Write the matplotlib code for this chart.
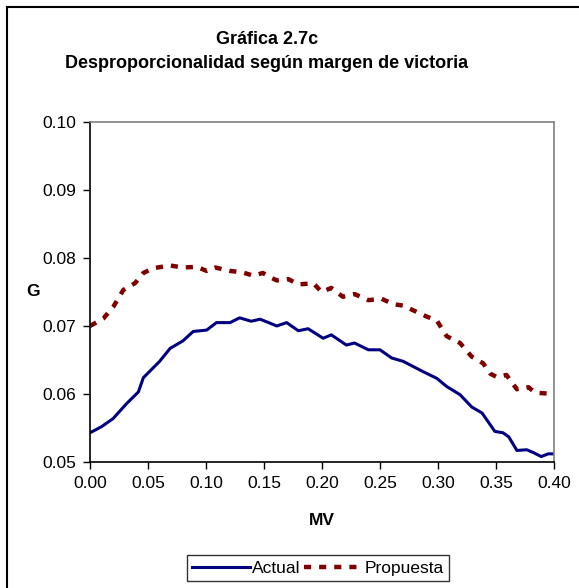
import matplotlib
matplotlib.use("Agg")
import matplotlib.pyplot as plt
from matplotlib.patches import Rectangle

plt.rcParams['font.family'] = ['Liberation Sans', 'DejaVu Sans']

# margen de victoria (MV) e índice de desproporcionalidad G
mv_actual = [0.000, 0.010, 0.020, 0.0316, 0.0417, 0.046, 0.060, 0.069, 0.080, 0.089,
             0.1006, 0.109, 0.1207, 0.129, 0.139, 0.1466, 0.154, 0.161, 0.1695, 0.1796,
             0.188, 0.201, 0.208, 0.221, 0.228, 0.240, 0.250, 0.260, 0.270, 0.287,
             0.299, 0.3075, 0.319, 0.329, 0.338, 0.349, 0.356, 0.361, 0.368, 0.3765,
             0.382, 0.389, 0.395, 0.400]
g_actual = [0.0543, 0.0552, 0.0564, 0.0586, 0.0603, 0.0624, 0.0648, 0.0667, 0.0678, 0.0692,
            0.0694, 0.0705, 0.0705, 0.0712, 0.0707, 0.0710, 0.0705, 0.0700, 0.0705, 0.0693,
            0.0696, 0.0682, 0.0687, 0.0672, 0.0675, 0.0665, 0.0665, 0.0653, 0.0648, 0.0633,
            0.0623, 0.0611, 0.0599, 0.0581, 0.0572, 0.0545, 0.0543, 0.0537, 0.0517, 0.0518,
            0.0514, 0.0508, 0.0512, 0.0512]

mv_prop = [0.000, 0.0115, 0.020, 0.0287, 0.0388, 0.046, 0.0546, 0.069, 0.080, 0.092,
           0.1006, 0.108, 0.1207, 0.131, 0.141, 0.149, 0.155, 0.161, 0.171, 0.1796,
           0.1925, 0.1997, 0.208, 0.218, 0.228, 0.240, 0.2515, 0.2615, 0.270, 0.280,
           0.290, 0.299, 0.3075, 0.319, 0.329, 0.339, 0.345, 0.3505, 0.359, 0.368,
           0.378, 0.3836, 0.400]
g_prop = [0.0700, 0.0711, 0.0728, 0.0753, 0.0763, 0.0778, 0.0785, 0.0789, 0.0786, 0.0787,
          0.0781, 0.0786, 0.0781, 0.0779, 0.0774, 0.0778, 0.0772, 0.0767, 0.0769, 0.0761,
          0.0763, 0.0750, 0.0756, 0.0743, 0.0747, 0.0738, 0.0740, 0.0732, 0.0730, 0.0722,
          0.0714, 0.0708, 0.0685, 0.0675, 0.0655, 0.0645, 0.0630, 0.0625, 0.0628, 0.0607,
          0.0610, 0.0602, 0.0600]

x_ticks = [0.00, 0.05, 0.10, 0.15, 0.20, 0.25, 0.30, 0.35, 0.40]
y_ticks = [0.05, 0.06, 0.07, 0.08, 0.09, 0.10]

fig = plt.figure(figsize=(5.79, 5.88), dpi=100)
fig.patches.append(Rectangle((7.5 / 579, -0.1), 1.2, 1.1 - 7.5 / 588, transform=fig.transFigure,
                             fill=False, edgecolor='black', linewidth=1.5))

ax = fig.add_axes([90 / 579, 1 - 462 / 588, 464 / 579, 340 / 588])
ax.plot(mv_actual, g_actual, color='#000080', linewidth=2.2, label='Actual')
ax.plot(mv_prop, g_prop, color='#800000', linewidth=3.2, dashes=(1.6, 1.8), label='Propuesta')

ax.set_xlim(0, 0.4)
ax.set_ylim(0.05, 0.10)
ax.set_xticks(x_ticks)
ax.set_yticks(y_ticks)
ax.set_xticklabels([f"{v:.2f}" for v in x_ticks])
ax.set_yticklabels([f"{v:.2f}" for v in y_ticks])
ax.tick_params(direction='out', length=5, width=1, labelsize=12.5, pad=5)

for side in ['top', 'right']:
    ax.spines[side].set_color('#808080')
    ax.spines[side].set_linewidth(1.2)
for side in ['left', 'bottom']:
    ax.spines[side].set_linewidth(1.2)

ax.set_xlabel('MV', fontsize=12.5, fontweight='bold')
ax.xaxis.set_label_coords(0.5, -0.15)
ax.set_ylabel('G', fontsize=12.5, fontweight='bold', rotation=0, ha='center', va='center')
ax.yaxis.set_label_coords(-0.123, 0.5)

title_x = 267 / 579
fig.text(title_x, 1 - 39 / 588, 'Gráfica 2.7c', ha='center', va='center',
         fontsize=13, fontweight='bold')
fig.text(title_x, 1 - 64 / 588, 'Desproporcionalidad según margen de victoria', ha='center',
         va='center', fontsize=13, fontweight='bold')

leg = fig.legend(loc='center', bbox_to_anchor=(318 / 579, 1 - 568 / 588), ncol=2,
                 fontsize=12.5, frameon=True, fancybox=False, edgecolor='black',
                 handlelength=3.3, handletextpad=0.15, columnspacing=0.2,
                 borderpad=0.3, borderaxespad=0)
leg.get_frame().set_linewidth(1.0)

fig.savefig('out.png', dpi=100)
